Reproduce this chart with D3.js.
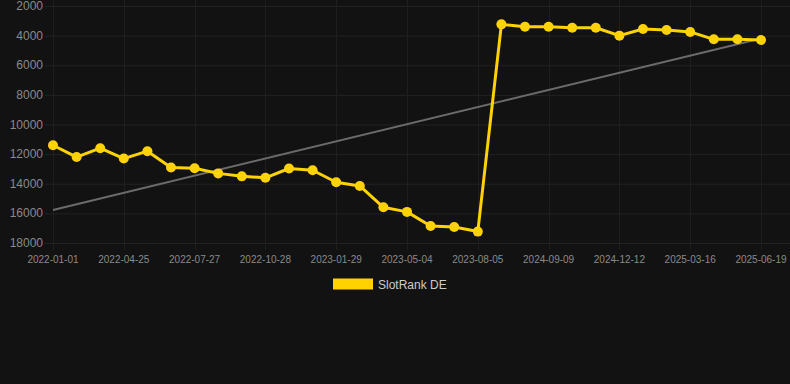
<!DOCTYPE html>
<html>
<head>
<meta charset="utf-8">
<script src="https://cdn.jsdelivr.net/npm/d3@7"></script>
<style>
  html, body { margin: 0; padding: 0; background: #121212; }
  svg { display: block; }
</style>
</head>
<body>
<svg id="chart" width="790" height="384"></svg>
<script>
// rank values (lower is better, axis reversed)
const rankDE = [11400, 12200, 11600, 12300, 11800, 12900, 12950, 13300, 13500, 13600,
  12970, 13090, 13900, 14150, 15590, 15900, 16850, 16920, 17230,
  3240, 3400, 3400, 3470, 3470, 4000, 3550, 3620, 3750, 4250, 4250, 4300];
const tickLabels = ['2022-01-01', '2022-04-25', '2022-07-27', '2022-10-28', '2023-01-29',
  '2023-05-04', '2023-08-05', '2024-09-09', '2024-12-12', '2025-03-16', '2025-06-19'];
const tickIndex = [0, 3, 6, 9, 12, 15, 18, 21, 24, 27, 30];
const yTicks = [2000, 4000, 6000, 8000, 10000, 12000, 14000, 16000, 18000];
const trendStart = 15770, trendEnd = 4190;

const svg = d3.select('#chart');
const font = 'Liberation Sans, Arial, Helvetica, sans-serif';

const x = d3.scalePoint()
    .domain(d3.range(rankDE.length))
    .range([53, 761]);
const y = d3.scaleLinear()
    .domain([2000, 18000])
    .range([6, 243]);

// grid
svg.append('g').selectAll('line')
    .data(yTicks)
    .join('line')
    .attr('x1', 45).attr('x2', 790)
    .attr('y1', d => y(d) + 0.5).attr('y2', d => y(d) + 0.5)
    .attr('stroke', '#222222');
svg.append('g').selectAll('line')
    .data(tickIndex)
    .join('line')
    .attr('x1', d => Math.round(x(d)) + 0.5).attr('x2', d => Math.round(x(d)) + 0.5)
    .attr('y1', 0).attr('y2', 250)
    .attr('stroke', '#1e1e1e');

// y labels
svg.append('g').selectAll('text')
    .data(yTicks)
    .join('text')
    .attr('x', 43)
    .attr('y', d => y(d) + 4)
    .attr('text-anchor', 'end')
    .attr('font-family', font)
    .attr('font-size', 12)
    .attr('fill', '#8a8a8a')
    .text(d => d);

// x labels
svg.append('g').selectAll('text')
    .data(tickIndex)
    .join('text')
    .attr('x', d => x(d))
    .attr('y', 263)
    .attr('text-anchor', 'middle')
    .attr('font-family', font)
    .attr('font-size', 10)
    .attr('fill', '#8a8a8a')
    .text((d, i) => tickLabels[i]);

// trend line
svg.append('line')
    .attr('x1', x(0)).attr('y1', y(trendStart))
    .attr('x2', x(rankDE.length - 1)).attr('y2', y(trendEnd))
    .attr('stroke', '#6b6b6b')
    .attr('stroke-width', 2);

// series
const line = d3.line()
    .x((d, i) => x(i))
    .y(d => y(d));
svg.append('path')
    .datum(rankDE)
    .attr('d', line)
    .attr('fill', 'none')
    .attr('stroke', '#ffd200')
    .attr('stroke-width', 3)
    .attr('stroke-linejoin', 'round');
svg.append('g').selectAll('circle')
    .data(rankDE)
    .join('circle')
    .attr('cx', (d, i) => x(i))
    .attr('cy', d => y(d))
    .attr('r', 5)
    .attr('fill', '#ffd200');

// legend
svg.append('rect')
    .attr('x', 333).attr('y', 278.5)
    .attr('width', 40).attr('height', 11)
    .attr('fill', '#ffd200');
svg.append('text')
    .attr('x', 378).attr('y', 289)
    .attr('font-family', font)
    .attr('font-size', 12)
    .attr('fill', '#cccccc')
    .text('SlotRank DE');
</script>
</body>
</html>
